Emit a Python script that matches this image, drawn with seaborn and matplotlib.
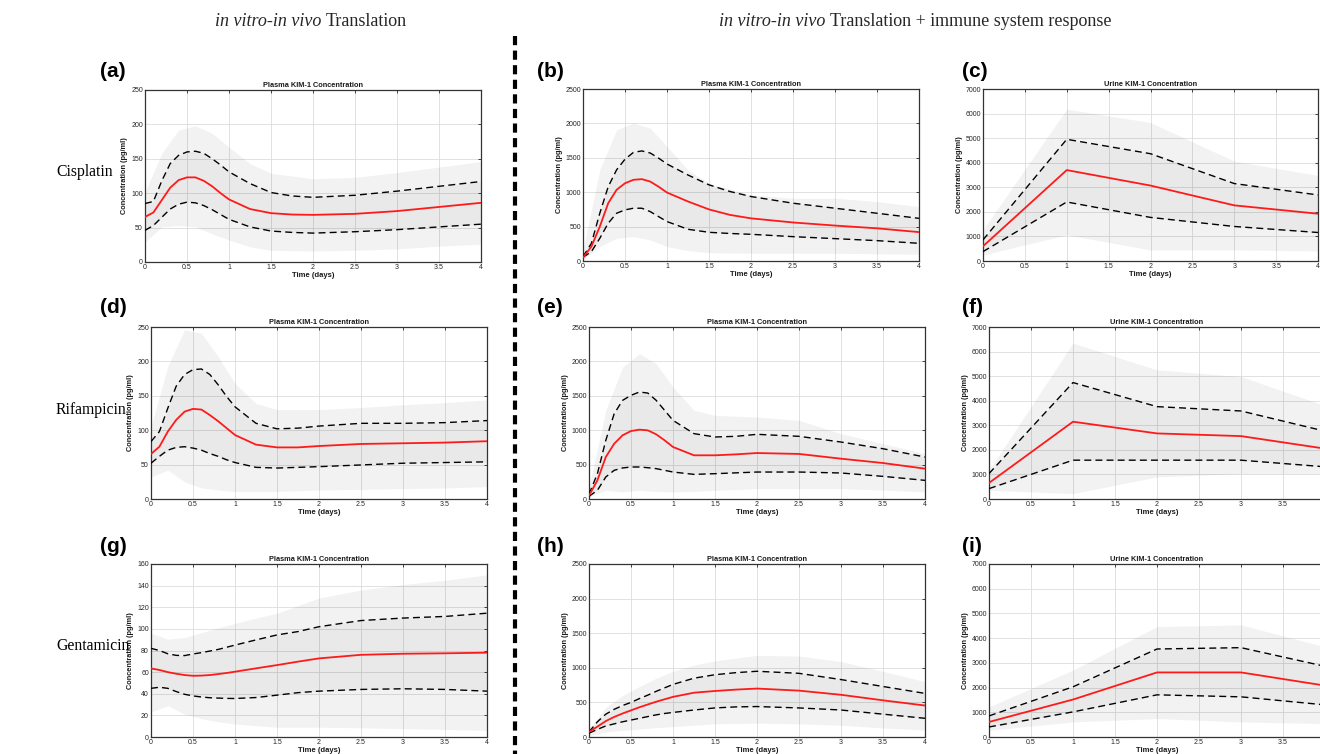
import numpy as np
import pandas as pd
import matplotlib
matplotlib.use("Agg")
import matplotlib.pyplot as plt
import seaborn as sns
from matplotlib.lines import Line2D
from matplotlib.transforms import IdentityTransform

# ---------------- data ----------------
T_PLASMA = [0, 0.1, 0.2, 0.3, 0.4, 0.5, 0.6, 0.7, 0.8, 0.9, 1.0, 1.25, 1.5, 1.75, 2, 2.5, 3, 3.5, 4]
T_BAND = [0, 0.2, 0.4, 0.6, 0.8, 1.0, 1.25, 1.5, 2, 2.5, 3, 3.5, 4]
T_URINE = [0, 1, 2, 3, 4]

drugs = ["Cisplatin", "Rifampicin", "Gentamicin"]
panel_letters = ["(a)", "(b)", "(c)", "(d)", "(e)", "(f)", "(g)", "(h)", "(i)"]
col_headers = ["Translation", "Translation + immune system response"]
plasma_title = "Plasma KIM-1 Concentration"
urine_title = "Urine KIM-1 Concentration"
x_ticks = [0, 0.5, 1, 1.5, 2, 2.5, 3, 3.5, 4]
x_tick_labels = ["0", "0.5", "1", "1.5", "2", "2.5", "3", "3.5", "4"]

# (a) Cisplatin, plasma, in vitro-in vivo
a_mean = [65.5, 72, 90, 108, 119, 123, 123, 118, 110, 100, 91, 77, 71, 69, 68.5, 70, 74, 80, 86]
a_upper = [85, 88, 118, 143, 155, 160, 161, 158, 150, 141, 131, 114, 101, 96, 94, 97, 103, 110, 117]
a_lower = [46, 53, 65, 77, 84, 87, 86, 82, 76, 69, 62, 51, 45, 43, 42, 44, 47, 51, 55]
a_hi = [102, 158, 192, 198, 187, 167, 143, 129, 121, 123, 130, 138, 146]
a_lo = [29, 51, 53, 51, 41, 32, 22, 17, 16, 17, 19, 23, 26]

# (b) Cisplatin, plasma, + immune
b_mean = [50, 210, 500, 840, 1035, 1130, 1180, 1190, 1155, 1080, 995, 865, 750, 670, 620, 560, 515, 475, 420]
b_upper = [63, 257, 694, 1080, 1325, 1480, 1578, 1600, 1570, 1495, 1410, 1250, 1107, 1010, 937, 840, 767, 694, 620]
b_lower = [53, 136, 330, 549, 694, 743, 767, 767, 718, 645, 573, 461, 417, 400, 388, 354, 325, 296, 257]
b_hi = [160, 1325, 1908, 2005, 1932, 1665, 1325, 1130, 960, 913, 913, 864, 791]
b_lo = [15, 209, 330, 354, 306, 209, 150, 121, 112, 112, 112, 105, 97]

# (c) Cisplatin, urine
c_mean = [600, 3700, 3070, 2265, 1924]
c_upper = [860, 4953, 4366, 3152, 2688]
c_lower = [382, 2402, 1774, 1405, 1160]
c_hi = [1270, 6180, 5636, 4066, 3480]
c_lo = [245, 1064, 450, 450, 409]

# (d) Rifampicin, plasma
d_mean = [65.5, 76, 98, 115, 127, 131, 130, 122, 113, 103, 93, 79, 75, 75, 77, 80, 81, 82, 84]
d_upper = [83.5, 98, 132, 164, 181, 188, 189, 181, 166, 149, 134, 110, 102, 103, 106, 110, 110, 111, 114]
d_lower = [52, 62, 71, 75, 76, 74, 71, 66, 62, 57, 53, 46, 45, 46, 47, 49.5, 52, 53, 54]
d_hi = [105, 193, 246, 241, 207, 168, 139, 130, 130, 133, 137, 140, 144]
d_lo = [32, 42, 25, 16, 13, 11, 11, 11, 13, 14, 15, 16, 18]

# (e) Rifampicin, plasma, + immune
e_mean = [50, 271, 610, 804, 926, 988, 1008, 998, 940, 853, 756, 635, 635, 649, 668, 655, 586, 523, 441]
e_upper = [68, 368, 853, 1240, 1434, 1507, 1555, 1540, 1434, 1289, 1143, 950, 901, 911, 940, 911, 828, 731, 610]
e_lower = [39, 126, 320, 417, 451, 465, 465, 455, 441, 417, 392, 358, 368, 380, 392, 392, 378, 329, 271]
e_hi = [174, 1289, 1919, 2112, 1967, 1628, 1289, 1216, 1192, 1143, 950, 804, 659]
e_lo = [29, 126, 102, 126, 110, 102, 110, 126, 150, 150, 150, 130, 102]

# (f) Rifampicin, urine
f_mean = [653, 3146, 2669, 2560, 2050]
f_upper = [1035, 4739, 3759, 3582, 2760]
f_lower = [422, 1580, 1580, 1580, 1310]
f_hi = [1171, 6346, 5256, 4984, 3800]
f_lo = [354, 218, 899, 1035, 1035]

# (g) Gentamicin, plasma
g_mean = [63.4, 62, 60, 58.5, 57.3, 56.6, 56.8, 57.3, 58.2, 59.2, 60.4, 63.5, 66.5, 69.7, 72.7, 76, 77, 77.4, 78]
g_upper = [82, 80, 77, 75.5, 75.3, 76.8, 78, 79.5, 81, 83, 85, 89.8, 94.4, 97.5, 102, 107.7, 110, 111.5, 114.5]
g_lower = [45, 46, 45, 42, 39.5, 38, 37, 36.3, 36, 35.7, 35.6, 36.5, 38.7, 41, 42.4, 44, 44.6, 44, 42.4]
g_hi = [96, 90.5, 92, 96.5, 101, 105, 110, 114.5, 128.5, 136, 141, 145, 150]
g_lo = [23, 29, 21, 17, 14, 12, 10.5, 9, 9, 8.5, 7.7, 7, 6]

# (h) Gentamicin, plasma, + immune
h_mean = [73, 150, 230, 290, 340, 385, 430, 470, 510, 545, 580, 640, 665, 685, 700, 670, 610, 530, 455]
h_upper = [73, 220, 330, 400, 455, 500, 555, 605, 660, 710, 760, 850, 900, 930, 950, 920, 830, 730, 630]
h_lower = [55, 110, 160, 190, 220, 245, 270, 295, 320, 340, 355, 390, 420, 435, 440, 420, 390, 330, 270]
h_hi = [120, 430, 600, 730, 850, 950, 1040, 1100, 1180, 1170, 1090, 950, 800]
h_lo = [20, 70, 95, 115, 135, 150, 170, 190, 200, 190, 170, 130, 100]

# (i) Gentamicin, urine
i_mean = [609, 1516, 2613, 2613, 2080]
i_upper = [853, 2031, 3561, 3615, 2860]
i_lower = [406, 1016, 1706, 1625, 1300]
i_hi = [1219, 2708, 4468, 4536, 3650]
i_lo = [271, 609, 745, 609, 542]

# ---------------- style ----------------
sns.set_theme(style="whitegrid")
plt.rcParams["font.family"] = ["Liberation Sans", "DejaVu Sans"]

W, H = 1320, 754
fig = plt.figure(figsize=(W / 100, H / 100), dpi=100)
fig.patch.set_facecolor("white")


def rect(l, t, r, b):
    return [l / W, 1 - b / H, (r - l) / W, (b - t) / H]


panels = [
    (rect(145, 90, 481, 262), T_PLASMA, T_BAND, a_mean, a_upper, a_lower, a_hi, a_lo, 250, 50, plasma_title),
    (rect(583, 89, 919, 261), T_PLASMA, T_BAND, b_mean, b_upper, b_lower, b_hi, b_lo, 2500, 500, plasma_title),
    (rect(983, 89, 1318, 261), T_URINE, T_URINE, c_mean, c_upper, c_lower, c_hi, c_lo, 7000, 1000, urine_title),
    (rect(151, 327, 487, 499), T_PLASMA, T_BAND, d_mean, d_upper, d_lower, d_hi, d_lo, 250, 50, plasma_title),
    (rect(589, 327, 925, 499), T_PLASMA, T_BAND, e_mean, e_upper, e_lower, e_hi, e_lo, 2500, 500, plasma_title),
    (rect(989, 327, 1325, 499), T_URINE, T_URINE, f_mean, f_upper, f_lower, f_hi, f_lo, 7000, 1000, urine_title),
    (rect(151, 564, 487, 737), T_PLASMA, T_BAND, g_mean, g_upper, g_lower, g_hi, g_lo, 160, 20, plasma_title),
    (rect(589, 564, 925, 737), T_PLASMA, T_BAND, h_mean, h_upper, h_lower, h_hi, h_lo, 2500, 500, plasma_title),
    (rect(989, 564, 1325, 737), T_URINE, T_URINE, i_mean, i_upper, i_lower, i_hi, i_lo, 7000, 1000, urine_title),
]

letter_pos = [(100, 77), (537, 77), (962, 77), (100, 313), (537, 313), (962, 313), (100, 552), (537, 552), (962, 552)]

for idx, (r, tl, tb, mean, up, lo, hi, blo, ymax, ystep, title) in enumerate(panels):
    ax = fig.add_axes(r)
    ax.set_facecolor("white")
    ax.fill_between(tb, blo, hi, color="black", alpha=0.05, lw=0, zorder=1)
    ax.fill_between(tl, lo, up, color="black", alpha=0.035, lw=0, zorder=1.1)
    df = pd.DataFrame({"t": tl, "mean": mean, "upper": up, "lower": lo})
    sns.lineplot(data=df, x="t", y="upper", ax=ax, color="black", lw=1.0, linestyle=(0, (5, 3)), zorder=3)
    sns.lineplot(data=df, x="t", y="lower", ax=ax, color="black", lw=1.0, linestyle=(0, (5, 3)), zorder=3)
    sns.lineplot(data=df, x="t", y="mean", ax=ax, color="#ff1a1a", lw=1.3, zorder=4)
    ax.set_xlim(0, 4)
    ax.set_ylim(0, ymax)
    ax.set_xticks(x_ticks)
    ax.set_xticklabels(x_tick_labels)
    ax.set_yticks(np.arange(0, ymax + 1, ystep))
    ax.grid(True, color="#dcdcdc", lw=0.6)
    ax.tick_params(direction="in", length=2.5, width=0.6, colors="#262626", labelsize=5,
                   top=True, right=True, pad=1.5)
    for s in ax.spines.values():
        s.set_color("#333333")
        s.set_linewidth(0.9)
        s.set_visible(True)
    ax.set_title(title, fontsize=5.3, fontweight="bold", pad=2, color="#1a1a1a")
    ax.set_xlabel("Time (days)", fontsize=5.5, fontweight="bold", labelpad=1, color="#1a1a1a")
    ax.set_ylabel("Concentration (pg/ml)", fontsize=5.3, fontweight="bold", labelpad=2, color="#1a1a1a")
    lx, ly = letter_pos[idx]
    fig.text(lx / W, 1 - ly / H, panel_letters[idx], fontsize=15, fontweight="bold",
             ha="left", va="baseline", color="black")

# row labels
for name, yc in zip(drugs, [172, 410, 646]):
    fig.text(56 / W, 1 - yc / H, name, fontsize=11.3, family=["Liberation Serif", "DejaVu Serif"],
             ha="left", va="center", color="black")

renderer = fig.canvas.get_renderer()


def header(xc, yc, rest, size=13):
    ypx = H - yc
    t1 = fig.text(0, ypx, "in vitro-in vivo", fontsize=size, fontstyle="italic",
                  family=["Liberation Serif", "DejaVu Serif"], transform=IdentityTransform(),
                  ha="left", va="center")
    t2 = fig.text(0, ypx, rest, fontsize=size, family=["Liberation Serif", "DejaVu Serif"],
                  transform=IdentityTransform(), ha="left", va="center")
    w1 = t1.get_window_extent(renderer).width
    w2 = t2.get_window_extent(renderer).width
    gap = size * 100 / 72 * 0.25
    total = w1 + gap + w2
    x0 = xc - total / 2
    t1.set_x(x0)
    t2.set_x(x0 + w1 + gap)


header(311, 22, col_headers[0])
header(915, 22, col_headers[1])

fig.add_artist(Line2D([515 / W, 515 / W], [1 - 36 / H, 0], transform=fig.transFigure,
                      color="black", lw=3.0, linestyle=(0, (2.2, 1.3))))

fig.savefig("out.png", dpi=100, facecolor="white")
